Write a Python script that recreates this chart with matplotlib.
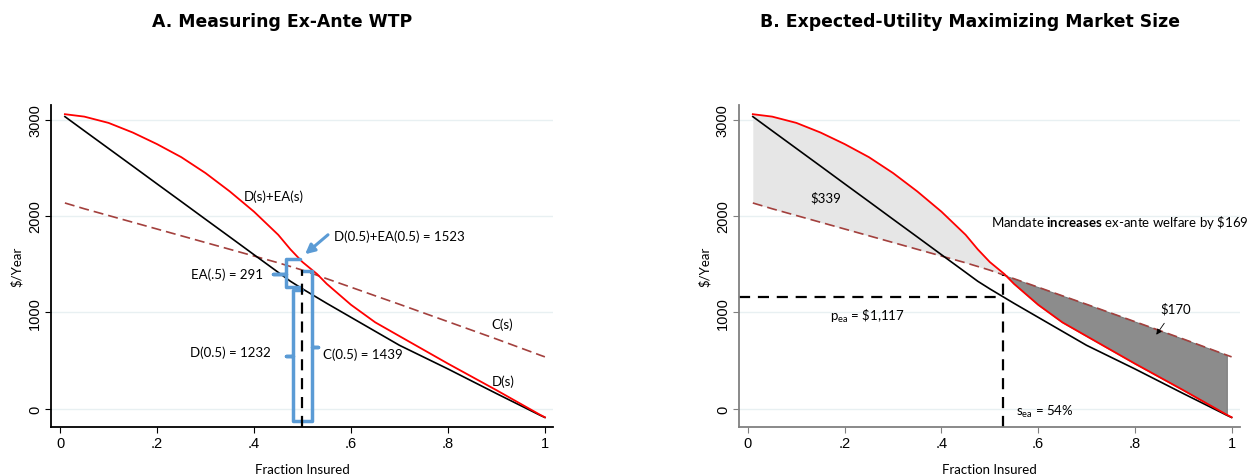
import matplotlib
matplotlib.use("Agg")
import matplotlib.pyplot as plt
import numpy as np

# fraction insured grid and curves ($/year)
s = np.array([0.01, 0.05, 0.1, 0.15, 0.2, 0.25, 0.3, 0.35, 0.4, 0.45, 0.475, 0.5, 0.53,
              0.55, 0.6, 0.65, 0.7, 0.8, 0.9, 0.99, 1.0])
demand = np.array([3030, 2883, 2700, 2517, 2333, 2150, 1966, 1783, 1599, 1416, 1324, 1245, 1155,
                   1095, 950, 805, 660, 415, 160, -65, -88])
demand_ea = np.array([3055, 3030, 2965, 2865, 2745, 2610, 2445, 2255, 2045, 1805, 1655, 1523, 1399,
                      1297, 1080, 898, 755, 470, 195, -60, -86])
cost = np.array([2135, 2075, 2005, 1935, 1865, 1795, 1725, 1655, 1585, 1515, 1477, 1439, 1386,
                 1350, 1262, 1173, 1085, 905, 725, 558, 540])

s_ea = 0.527
p_ea = 1165
c_half = 1439
d_half = 1232
dea_half = 1523

RED = "#ff0000"
COSTC = "#a3403d"
BLUE = "#5b9bd5"
GRID = "#e8f0f2"

plt.rcParams["font.family"] = ["Lato", "DejaVu Sans"]
plt.rcParams["mathtext.fontset"] = "custom"
plt.rcParams["mathtext.rm"] = "Lato"
plt.rcParams["mathtext.bf"] = "Lato:bold"
plt.rcParams["mathtext.it"] = "Lato:italic"

fig = plt.figure(figsize=(12.6, 4.77), dpi=100)
axA = fig.add_axes([0.0405, 0.1027, 0.3985, 0.675])
axB = fig.add_axes([0.5865, 0.1027, 0.3975, 0.675])


def style(ax, spine_col):
    ax.set_xlim(-0.0186, 1.017)
    ax.set_ylim(-187, 3150)
    ax.set_xticks([0, 0.2, 0.4, 0.6, 0.8, 1])
    ax.set_xticklabels(["0", ".2", ".4", ".6", ".8", "1"], family="Liberation Sans", fontsize=10.5)
    ax.set_yticks([0, 1000, 2000, 3000])
    ax.set_yticklabels(["0", "1000", "2000", "3000"], family="Liberation Sans", fontsize=10.5,
                       rotation=90, va="center")
    ax.grid(axis="y", color=GRID, lw=1)
    ax.set_axisbelow(True)
    for sp in ["top", "right"]:
        ax.spines[sp].set_visible(False)
    for sp in ["left", "bottom"]:
        ax.spines[sp].set_color(spine_col)
        ax.spines[sp].set_linewidth(1.3)
    ax.tick_params(length=4.5, color=spine_col, pad=2)
    ax.set_xlabel("Fraction Insured", fontsize=9.5, va="center")
    ax.xaxis.set_label_coords(0.5, -0.13)
    ax.set_ylabel("$/Year", fontsize=9.5, labelpad=4)


def brace(ax, xv, ytop, ybot, xend, ymid, xtick):
    ax.plot([xend, xv, xv, xtick, xv, xv, xend], [ytop, ytop, ymid, ymid, ymid, ybot, ybot],
            color=BLUE, lw=2.5, solid_joinstyle="round", solid_capstyle="round", zorder=4)


# ---- Panel A
style(axA, "black")
axA.plot(s, cost, color=COSTC, lw=1.2, dashes=(6, 3))
axA.plot(s, demand, color="black", lw=1.2)
axA.plot(s, demand_ea, color=RED, lw=1.3)
axA.plot([0.5, 0.5], [-187, c_half], color="black", lw=1.6, dashes=(5, 3.5), zorder=5)

brace(axA, 0.466, 1554, 1264, 0.495, 1399, 0.439)
brace(axA, 0.480, d_half, -124, 0.499, 549, 0.466)
brace(axA, 0.520, c_half - 9, -124, 0.499, 642, 0.532)
axA.annotate("", xy=(0.501, 1585), xytext=(0.557, 1824),
             arrowprops=dict(arrowstyle="-|>", color=BLUE, lw=2.2, mutation_scale=14))

axA.text(0.441, 2207, "D(s)+EA(s)", fontsize=9.5, ha="center", va="center")
axA.text(0.565, 1793, "D(0.5)+EA(0.5) = %d" % dea_half, fontsize=9.5, ha="left", va="center")
axA.text(0.419, 1399, "EA(.5) = %d" % (dea_half - d_half), fontsize=9.5, ha="right", va="center")
axA.text(0.435, 591, "D(0.5) = %d" % d_half, fontsize=9.5, ha="right", va="center")
axA.text(0.542, 570, "C(0.5) = %d" % c_half, fontsize=9.5, ha="left", va="center")
axA.text(0.89, 880, "C(s)", fontsize=9.5, ha="left", va="center")
axA.text(0.89, 290, "D(s)", fontsize=9.5, ha="left", va="center")

# ---- Panel B
style(axB, "#808080")
axB.fill_between(s, demand_ea, cost, where=demand_ea >= cost, interpolate=True,
                 color="#e6e6e6", lw=0)
axB.fill_between(s, cost, demand_ea, where=(cost >= demand_ea) & (s <= 0.99), interpolate=True,
                 facecolor="#8c8c8c", edgecolor="#7a7a7a", lw=0.8)
axB.plot(s, cost, color=COSTC, lw=1.2, dashes=(6, 3))
axB.plot(s, demand, color="black", lw=1.2)
axB.plot(s, demand_ea, color=RED, lw=1.3)
axB.plot([-0.0186, s_ea], [p_ea, p_ea], color="black", lw=1.6, dashes=(5, 3.5))
axB.plot([s_ea, s_ea], [-187, 1389], color="black", lw=1.6, dashes=(5, 3.5))

axB.text(0.161, 2197, "$339", fontsize=9.5, ha="center", va="center")
axB.text(0.885, 1047, "$170", fontsize=9.5, ha="center", va="center")
axB.annotate("", xy=(0.841, 746), xytext=(0.864, 912),
             arrowprops=dict(arrowstyle="-|>", color="black", lw=0.6, mutation_scale=8))
axB.text(0.247, 967, r"p$_{\mathrm{ea}}$ = \$1,117", fontsize=9.5, ha="center", va="center")
axB.text(0.555, -21, r"s$_{\mathrm{ea}}$ = 54%", fontsize=9.5, ha="left", va="center")
axB.text(1.035, 1948, r"Mandate $\mathbf{increases}$ ex-ante welfare by \$169", fontsize=9.5,
         ha="right", va="center")

fig.text(0.224, 0.954, "A. Measuring Ex-Ante WTP", fontsize=12.4, fontweight="bold",
         family="DejaVu Sans", ha="center", va="center")
fig.text(0.770, 0.954, "B. Expected-Utility Maximizing Market Size", fontsize=12.4,
         fontweight="bold", family="DejaVu Sans", ha="center", va="center")

fig.savefig("out.png", dpi=100)
